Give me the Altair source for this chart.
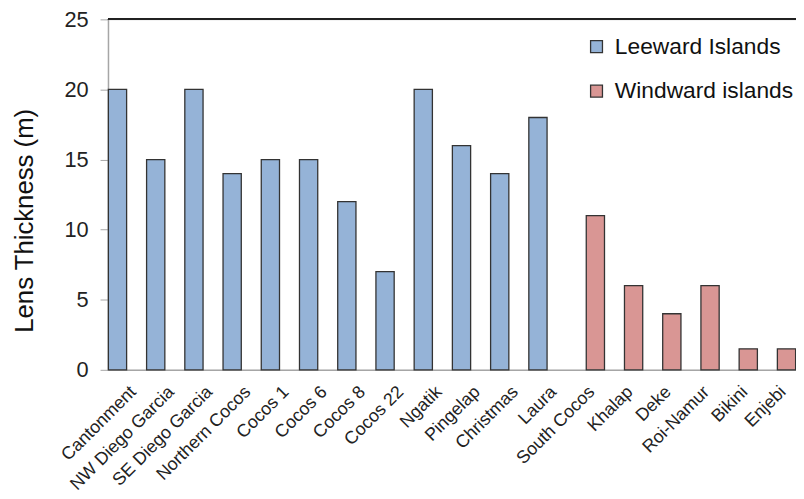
import altair as alt
import pandas as pd

categories = ["Cantonment", "NW Diego Garcia", "SE Diego Garcia", "Northern Cocos",
              "Cocos 1", "Cocos 6", "Cocos 8", "Cocos 22", "Ngatik", "Pingelap",
              "Christmas", "Laura", "South Cocos", "Khalap", "Deke", "Roi-Namur",
              "Bikini", "Enjebi"]
series = ["Leeward Islands"] * 12 + ["Windward islands"] * 6
values = [20, 15, 20, 14, 15, 15, 12, 7, 20, 16, 14, 18, 11, 6, 4, 6, 1.5, 1.5]
series_names = ["Leeward Islands", "Windward islands"]
series_colors = ["#95B3D7", "#D99694"]
y_ticks = [0, 5, 10, 15, 20, 25]

df = pd.DataFrame({"cat": categories, "series": series, "value": values})

FONT = "Liberation Sans"
W, H = 695, 354

bars = alt.Chart(df).mark_bar(stroke="#333333", strokeWidth=1.3).encode(
    x=alt.X("cat:N", sort=categories,
            scale=alt.Scale(paddingInner=0, paddingOuter=0),
            axis=alt.Axis(title=None, labelAngle=-45, labelAlign="right",
                          labelBaseline="top", labelPadding=13, ticks=False,
                          labelFontSize=18, labelFont=FONT, labelColor="#222222",
                          domainColor="#A6A6A6", domainWidth=1.5, labelOverlap=False,
                          labelLimit=300)),
    xOffset=alt.XOffset("series:N", scale=alt.Scale(domain=series_names,
                                                    paddingInner=0.05, paddingOuter=0.02)),
    y=alt.Y("value:Q", scale=alt.Scale(domain=[0, 25], nice=False, zero=True),
            axis=alt.Axis(title="Lens Thickness (m)", values=y_ticks, grid=False,
                          tickSize=8, tickColor="#A6A6A6", domainColor="#A6A6A6",
                          domainWidth=1.5, labelFontSize=22, labelFont=FONT,
                          labelColor="#222222", labelPadding=12,
                          titleFontSize=26, titleFont=FONT, titleFontWeight="normal",
                          titleColor="#111111", titleAngle=270, titleAlign="center",
                          titleBaseline="alphabetic", titleX=-76, titleY=203)),
    color=alt.Color("series:N", scale=alt.Scale(domain=series_names, range=series_colors),
                    legend=alt.Legend(title=None, orient="none", legendX=482, legendY=16,
                                      symbolType="square", symbolSize=144,
                                      symbolStrokeColor="#333333", symbolStrokeWidth=1.3,
                                      labelFontSize=23, labelFont=FONT, labelColor="#111111",
                                      labelOffset=7, rowPadding=21, padding=0,
                                      labelLimit=400)),
)

top_line = alt.Chart(df).mark_rule(color="#222222", strokeWidth=1.2).encode(
    x=alt.value(0), x2=alt.value(W), y=alt.value(0)
)

chart = alt.layer(bars, top_line).properties(
    width=W, height=H,
    autosize=alt.AutoSizeParams(type="none"),
    padding={"left": 101, "top": 9, "right": 0, "bottom": 128},
).configure_view(stroke=None).configure(background="white")

chart.save("out.html", embed_options={"renderer": "svg", "actions": False})
